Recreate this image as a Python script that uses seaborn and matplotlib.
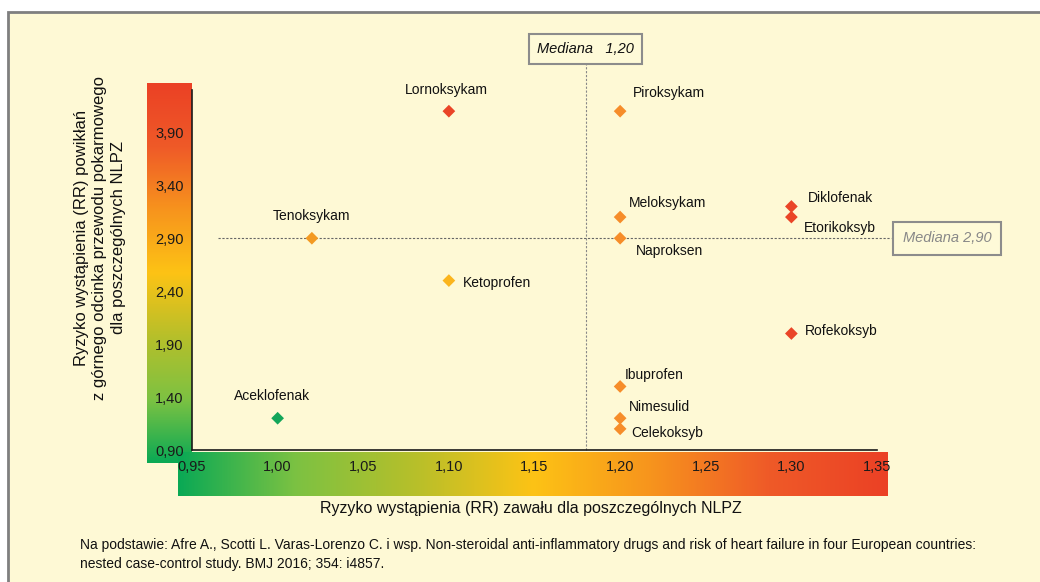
import numpy as np
import pandas as pd
import seaborn as sns
import matplotlib.pyplot as plt
from matplotlib.colors import LinearSegmentedColormap
from matplotlib.patches import Rectangle
from matplotlib.ticker import FuncFormatter

# Data
drugs = ['Lornoksykam', 'Piroksykam', 'Meloksykam', 'Naproksen', 'Tenoksykam',
         'Ketoprofen', 'Aceklofenak', 'Ibuprofen', 'Nimesulid', 'Celekoksyb',
         'Diklofenak', 'Etorikoksyb', 'Rofekoksyb']
rr_heart = [1.10, 1.20, 1.20, 1.20, 1.02, 1.10, 1.00, 1.20, 1.20, 1.20, 1.30, 1.30, 1.30]
rr_gi = [4.10, 4.10, 3.10, 2.90, 2.90, 2.50, 1.20, 1.50, 1.20, 1.10, 3.20, 3.10, 2.00]
median_x = 1.18
median_x_label = 'Mediana   1,20'
median_y = 2.90
median_y_label = 'Mediana 2,90'
x_ticks = [0.95, 1.00, 1.05, 1.10, 1.15, 1.20, 1.25, 1.30, 1.35]
y_ticks = [0.90, 1.40, 1.90, 2.40, 2.90, 3.40, 3.90]

# Styling
RED = '#ea4527'
ORANGE = '#f68d2a'
point_colors = {
    'Lornoksykam': RED, 'Piroksykam': ORANGE, 'Meloksykam': ORANGE,
    'Naproksen': ORANGE, 'Tenoksykam': '#f39a22', 'Ketoprofen': '#fbb51d',
    'Aceklofenak': '#13a65a', 'Ibuprofen': ORANGE, 'Nimesulid': ORANGE,
    'Celekoksyb': ORANGE, 'Diklofenak': RED, 'Etorikoksyb': RED, 'Rofekoksyb': RED,
}
# label offsets in points (dx, dy, horizontal alignment)
label_pos = {
    'Lornoksykam': (-2, 15, 'center'), 'Piroksykam': (9, 13, 'left'),
    'Meloksykam': (6, 10, 'left'), 'Naproksen': (11, -9, 'left'),
    'Tenoksykam': (0, 16, 'center'), 'Ketoprofen': (10, -2, 'left'),
    'Aceklofenak': (-4, 16, 'center'), 'Ibuprofen': (3, 8, 'left'),
    'Nimesulid': (6, 8, 'left'), 'Celekoksyb': (8, -3, 'left'),
    'Diklofenak': (12, 6, 'left'), 'Etorikoksyb': (9, -8, 'left'),
    'Rofekoksyb': (10, 2, 'left'),
}

df = pd.DataFrame({'lek': drugs, 'x': rr_heart, 'y': rr_gi})

sns.set_theme(style='white')
plt.rcParams['font.family'] = ['Liberation Sans', 'DejaVu Sans']

W, H = 1040, 582
fig = plt.figure(figsize=(W / 100, H / 100), dpi=100, facecolor='white')

# cream panel with grey top/left border
fig.add_artist(Rectangle((8 / W, -0.05), 1.1, 1 - 12 / H + 0.05, transform=fig.transFigure,
                         facecolor='#fef9d5', edgecolor='#7f7f7f', linewidth=2, zorder=0))

grad = LinearSegmentedColormap.from_list(
    'risk', ['#0aa955', '#7dc242', '#b7bf2a', '#fdc315', '#f7941d', '#ef5a28', '#eb4125'])

def fig_axes(x0, y0, x1, y1, **kw):
    return fig.add_axes([x0 / W, 1 - y1 / H, (x1 - x0) / W, (y1 - y0) / H], **kw)

# gradient strips
ax_ys = fig_axes(147, 83, 192, 463)
ax_ys.imshow(np.linspace(1, 0, 256)[:, None], aspect='auto', cmap=grad)
ax_ys.axis('off')
ax_xs = fig_axes(178, 452, 887, 496)
ax_xs.imshow(np.linspace(0, 1, 256)[None, :], aspect='auto', cmap=grad)
ax_xs.axis('off')

ax = fig_axes(192, 90, 877, 450)
ax.set_facecolor('none')

sns.scatterplot(data=df, x='x', y='y', hue='lek', palette=point_colors, marker='D',
                s=42, edgecolor='none', legend=False, ax=ax, zorder=4)

ax.set_xlim(0.95, 1.35)
ax.set_ylim(0.90, 4.30)
ax.set_xticks(x_ticks)
ax.set_yticks(y_ticks)
fmt = FuncFormatter(lambda v, p: f'{v:.2f}'.replace('.', ','))
ax.xaxis.set_major_formatter(fmt)
ax.yaxis.set_major_formatter(fmt)
ax.tick_params(axis='both', length=4, width=1, color='#333333', labelsize=10.5,
               labelcolor='#1a1a1a', direction='out', pad=3)
ax.tick_params(axis='y', pad=2)
sns.despine(ax=ax)
for s in ['left', 'bottom']:
    ax.spines[s].set_color('#1a1a1a')
    ax.spines[s].set_linewidth(1.2)

for name, x, y in zip(drugs, rr_heart, rr_gi):
    dx, dy, ha = label_pos[name]
    ax.annotate(name, (x, y), xytext=(dx, dy), textcoords='offset points',
                ha=ha, va='center', fontsize=10, color='#111111')

# median lines and boxes
ax.plot([median_x, median_x], [0.90, 4.55], ls=(0, (2, 1.5)), lw=0.8,
        color='#888888', clip_on=False, zorder=2)
ax.text(median_x, 4.69, median_x_label, ha='center', va='center', fontsize=10.5,
        style='italic', color='#111111', clip_on=False,
        bbox=dict(boxstyle='square,pad=0.55', fc='#fefad8', ec='#8c8c8c', lw=1.5))
ax.plot([0.965, 1.358], [median_y, median_y], ls=(0, (2, 1.5)), lw=0.8,
        color='#666666', clip_on=False, zorder=2)
ax.text(1.391, median_y, median_y_label, ha='center', va='center', fontsize=10.5,
        style='italic', color='#888888', clip_on=False,
        bbox=dict(boxstyle='square,pad=0.65', fc='#fefad8', ec='#8c8c8c', lw=1.5))

ax.set_xlabel('')
ax.set_ylabel('')
fig.text(100 / W, 1 - 238 / H,
         'Ryzyko wystąpienia (RR) powikłań\nz górnego odcinka przewodu pokarmowego\ndla poszczególnych NLPZ',
         rotation=90, ha='center', va='center', fontsize=12, color='#111111',
         linespacing=1.3)
fig.text(531 / W, 1 - 509 / H, 'Ryzyko wystąpienia (RR) zawału dla poszczególnych NLPZ',
         ha='center', va='center', fontsize=11.5, color='#111111')
fig.text(80 / W, 1 - 545 / H,
         'Na podstawie: Afre A., Scotti L. Varas-Lorenzo C. i wsp. Non-steroidal anti-inflammatory drugs and risk of heart failure in four European countries:',
         ha='left', va='center', fontsize=10, color='#111111')
fig.text(80 / W, 1 - 564 / H, 'nested case-control study. BMJ 2016; 354: i4857.',
         ha='left', va='center', fontsize=10, color='#111111')

fig.savefig('out.png', dpi=100, facecolor='white')
